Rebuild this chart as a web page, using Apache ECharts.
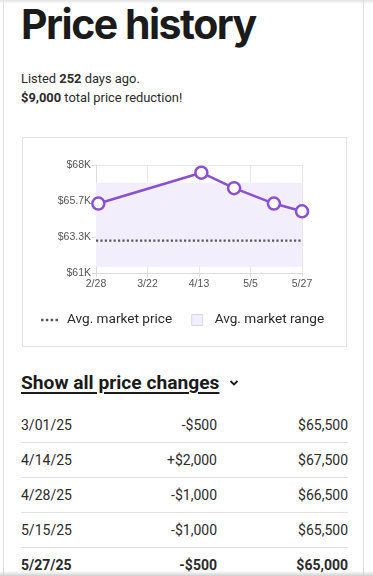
<!DOCTYPE html>
<html>
<head>
<meta charset="utf-8">
<script src="https://cdn.jsdelivr.net/npm/echarts@6/dist/echarts.min.js"></script>
<style>
  html, body { margin: 0; padding: 0; background: #fff; width: 373px; height: 576px; overflow: hidden; }
  body { position: relative; font-family: Roboto, "Liberation Sans", sans-serif; color: #2a2a2a; }
  .card { position: absolute; left: 3px; top: 0; width: 359px; height: 576px; border-left: 1px solid #dedede; border-right: 1px solid #dedede; }
  .topshade { position: absolute; left: 0; top: 0; width: 373px; height: 4px; background: linear-gradient(#e4e4e4, rgba(255,255,255,0)); }
  .botshade { position: absolute; left: 0; top: 571px; width: 373px; height: 5px; background: linear-gradient(rgba(255,255,255,0), #d0d0d0); }
  .title { position: absolute; left: 21px; top: 4px; font-family: Inter, sans-serif; font-weight: 700; font-size: 41px; line-height: 41px; letter-spacing: -1.5px; color: #1b1b1b; white-space: nowrap; }
  .info { position: absolute; left: 21px; top: 70px; font-size: 12.9px; line-height: 18.5px; color: #2a2a2a; }
  .info b { font-weight: 700; }
  #chart { position: absolute; left: 22px; top: 137px; width: 325px; height: 210px; box-sizing: border-box; border: 1px solid #e3e3e3; }
  .show { position: absolute; left: 21px; top: 371px; font-size: 19.2px; font-weight: 700; line-height: 24px; color: #1b1b1b; text-decoration: underline; text-underline-offset: 3px; text-decoration-thickness: 1.5px; white-space: nowrap; }
  .chev { position: absolute; left: 229px; top: 379px; width: 10px; height: 8px; }
  table { position: absolute; left: 21px; top: 408px; width: 327px; border-collapse: collapse; font-size: 14px; color: #2a2a2a; }
  td { height: 34px; padding: 0; border-bottom: 1px solid #e2e2e2; vertical-align: middle; }
  td.c2, td.c3 { text-align: right; }
  td.c1 { width: 120px; }
  td.c2 { width: 76px; }
  tr.last td { font-weight: 700; border-bottom: none; }
</style>
</head>
<body>
<div class="topshade"></div>
<div class="card"></div>
<div class="title">Price history</div>
<div class="info">Listed <b>252</b> days ago.<br><b>$9,000</b> total price reduction!</div>
<div id="chart"></div>
<div class="show">Show all price changes</div>
<svg class="chev" viewBox="0 0 10 8"><path d="M1.5 2 L5 5.5 L8.5 2" fill="none" stroke="#1b1b1b" stroke-width="1.8"/></svg>
<table id="tbl"></table>
<div class="botshade"></div>
<script>
// ---- data ----
var changeDates = ['3/01/25', '4/14/25', '4/28/25', '5/15/25', '5/27/25'];
var changeAmounts = ['-$500', '+$2,000', '-$1,000', '-$1,000', '-$500'];
var prices = [65500, 67500, 66500, 65500, 65000];
var axisStartDate = '2025-02-28';
var axisEndDate = '2025-05-27';
var xTickStepDays = 22;
var yMin = 61000;
var yMax = 68000;
var yTickCount = 3;              // number of intervals between $61K and $68K
var avgMarketPrice = 63100;
var avgMarketRange = [61400, 66850];

// ---- table ----
var tbl = document.getElementById('tbl');
var priceFmt = function (v) { return '$' + v.toLocaleString('en-US'); };
var html = '';
for (var i = 0; i < changeDates.length; i++) {
  html += '<tr' + (i === changeDates.length - 1 ? ' class="last"' : '') + '><td class="c1">' + changeDates[i] +
    '</td><td class="c2">' + changeAmounts[i] + '</td><td class="c3">' + priceFmt(prices[i]) + '</td></tr>';
}
tbl.innerHTML = html;

// ---- chart ----
var DAY = 86400000;
var start = Date.parse(axisStartDate + 'T00:00:00Z');
var end = Date.parse(axisEndDate + 'T00:00:00Z');
var toDay = function (s) {
  var p = s.split('/');
  var d = Date.UTC(2000 + (+p[2]), +p[0] - 1, +p[1]);
  return Math.round((d - start) / DAY);
};
var totalDays = Math.round((end - start) / DAY);
var lineData = changeDates.map(function (d, i) { return [toDay(d), prices[i]]; });

var chart = echarts.init(document.getElementById('chart'), null, { renderer: 'canvas' });
var gridColor = '#e8e8e8';
chart.setOption({
  animation: false,
  textStyle: { fontFamily: 'Liberation Sans, Arial, sans-serif' },
  grid: { left: 73, right: 44, top: 27, bottom: 73 },
  xAxis: {
    type: 'value', min: 0, max: totalDays, interval: xTickStepDays,
    axisLine: { show: true, lineStyle: { color: '#dcdcdc' } },
    axisTick: { show: true, length: 4, lineStyle: { color: '#dcdcdc' } },
    splitLine: { show: true, lineStyle: { color: gridColor } },
    axisLabel: {
      color: '#555', fontSize: 10.5, margin: 6,
      formatter: function (v) { var d = new Date(start + v * DAY); return (d.getUTCMonth() + 1) + '/' + d.getUTCDate(); }
    }
  },
  yAxis: [
    { type: 'value', min: yMin, max: yMax, show: false, splitLine: { show: false } },
    {
      type: 'value', min: 0, max: yTickCount, interval: 1, position: 'left',
      axisLine: { show: true, lineStyle: { color: '#dcdcdc' } },
      axisTick: { show: true, length: 4, lineStyle: { color: '#dcdcdc' } },
      splitLine: { show: true, lineStyle: { color: gridColor } },
      axisLabel: {
        color: '#555', fontSize: 10.5, margin: 5,
        formatter: function (v) {
          var k = (yMin + (yMax - yMin) * v / yTickCount) / 1000;
          var s = (Math.round(k * 10) / 10).toString();
          return '$' + s + 'K';
        }
      }
    }
  ],
  legend: {
    top: 170, left: 13, itemGap: 19, itemWidth: 17, itemHeight: 11,
    textStyle: { fontFamily: 'Roboto, sans-serif', fontSize: 13.6, color: '#2a2a2a', padding: [0, 0, 0, 4] },
    data: [
      { name: 'Avg. market price', icon: 'path://M0,0h2.4v2.4h-2.4zM4.6,0h2.4v2.4h-2.4zM9.2,0h2.4v2.4h-2.4zM13.8,0h2.4v2.4h-2.4z', itemStyle: { color: '#555' } },
      { name: 'Avg. market range', icon: 'path://M0,0h10v10h-10z', itemStyle: { color: '#f3eefc', borderColor: '#dcd6e6', borderWidth: 1 } }
    ]
  },
  series: [
    {
      name: 'Avg. market range', type: 'line', yAxisIndex: 0, data: [], silent: true,
      itemStyle: { color: '#f3eefc' },
      markArea: {
        silent: true, itemStyle: { color: '#f3eefc' },
        data: [[{ yAxis: avgMarketRange[0] }, { yAxis: avgMarketRange[1] }]]
      }
    },
    {
      name: 'Avg. market price', type: 'line', yAxisIndex: 0, symbol: 'none', silent: true,
      data: [[0, avgMarketPrice], [totalDays, avgMarketPrice]],
      lineStyle: { color: '#5a5a5a', width: 2.2, type: [2.2, 2.2] },
      itemStyle: { color: '#5a5a5a' }
    },
    {
      name: 'Price', type: 'line', yAxisIndex: 0, data: lineData,
      symbol: 'circle', symbolSize: 12,
      lineStyle: { color: '#8a4fd3', width: 2.5 },
      itemStyle: { color: '#fff', borderColor: '#8a4fd3', borderWidth: 2.5 }
    }
  ]
});
</script>
</body>
</html>
